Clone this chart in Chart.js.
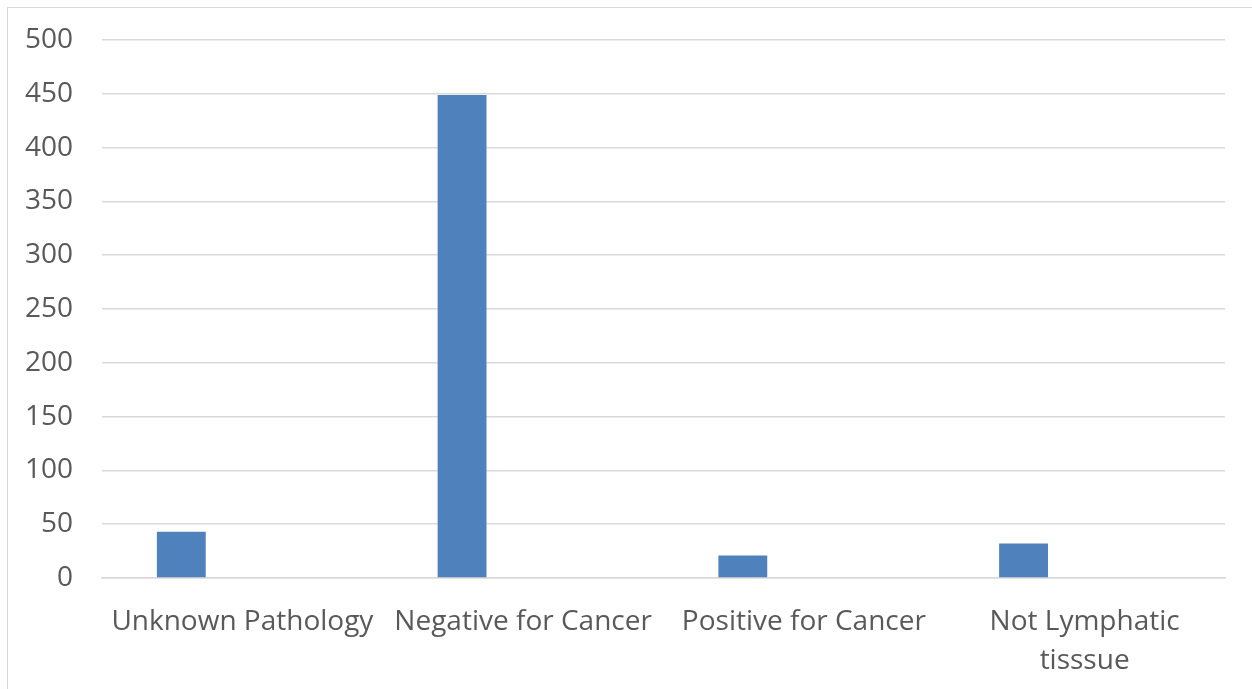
<!DOCTYPE html>
<html>
<head>
<meta charset="utf-8">
<script src="https://cdn.jsdelivr.net/npm/chart.js@4/dist/chart.umd.min.js"></script>
<style>
  html, body { margin: 0; padding: 0; background: #fff; }
  #frame {
    position: absolute; left: 7px; top: 7px;
    width: 1260px; height: 700px;
    border: 1.5px solid #d9d9d9; box-sizing: border-box;
  }
  #wrap { position: absolute; left: 0; top: 0; width: 1252px; height: 689px; }
</style>
</head>
<body>
<div id="frame"></div>
<div id="wrap"><canvas id="c" width="1252" height="689"></canvas></div>
<script>
// Lymph node pathology counts
const categories = [
  'Unknown Pathology',
  'Negative for Cancer',
  'Positive for Cancer',
  ['Not Lymphatic', 'tisssue']
];
const counts = [43, 449, 21, 32];
// second, empty series keeps the grouped slot beside each bar
const emptySeries = [null, null, null, null];
const yTicks = { min: 0, max: 500, step: 50 };

const textColor = '#595959';
const gridColor = '#d9d9d9';
const font = { family: 'Open Sans', size: 28 };

new Chart(document.getElementById('c'), {
  type: 'bar',
  data: {
    labels: categories,
    datasets: [
      {
        label: 'Count',
        data: counts,
        backgroundColor: '#4f81bd',
        borderWidth: 0,
        categoryPercentage: 0.87,
        barPercentage: 0.40
      },
      {
        label: '',
        data: emptySeries,
        backgroundColor: '#4f81bd',
        categoryPercentage: 0.87,
        barPercentage: 0.40
      }
    ]
  },
  options: {
    responsive: false,
    animation: false,
    layout: { padding: { top: 40, left: 0, right: 27, bottom: 0 } },
    plugins: { legend: { display: false }, tooltip: { enabled: false } },
    scales: {
      x: {
        grid: { display: false, drawTicks: false },
        border: { display: true, color: gridColor, width: 1.5 },
        ticks: {
          color: textColor, font: { ...font, lineHeight: 1.4 },
          padding: 24, maxRotation: 0, autoSkip: false
        },
        afterFit(scale) {
          scale.height = 111;
          scale.paddingLeft = 0; scale.paddingRight = 0;
        }
      },
      y: {
        min: yTicks.min, max: yTicks.max,
        grid: { color: gridColor, lineWidth: 1.5, drawTicks: false },
        border: { display: false },
        ticks: {
          stepSize: yTicks.step, color: textColor, font: font, padding: 29
        },
        afterFit(scale) {
          scale.width = 102;
          scale.paddingTop = 0; scale.paddingBottom = 0;
        }
      }
    }
  }
});
</script>
</body>
</html>
